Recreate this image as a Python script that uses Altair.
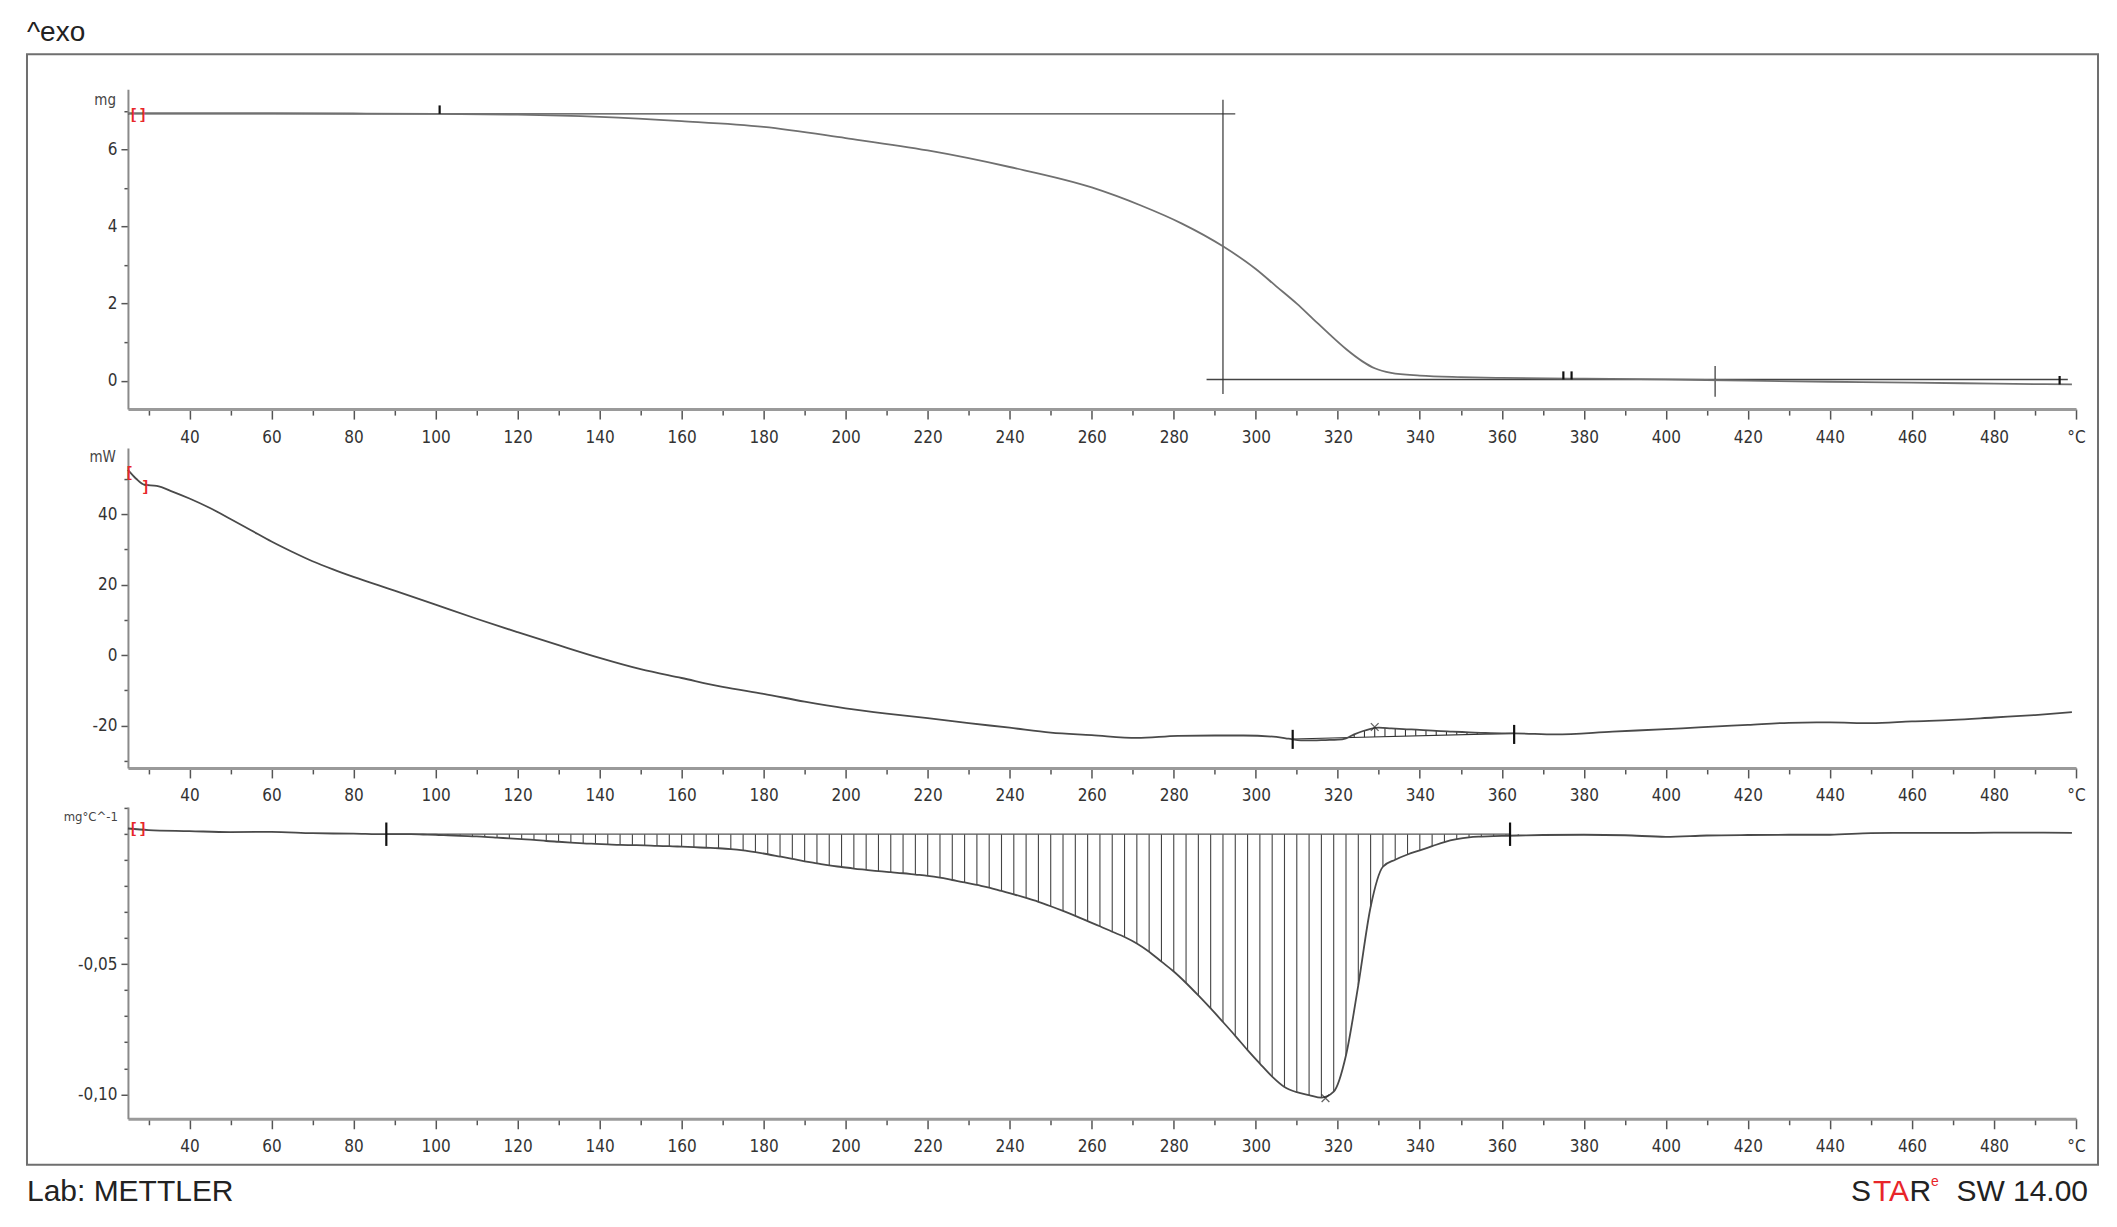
import altair as alt
import pandas as pd

# ---------------- data ----------------
# TGA (mg)
tga_T = [25, 40, 60, 80, 100, 120, 140, 160, 180, 200, 220, 240, 260, 272, 282, 292, 300, 305, 310, 314,
         318, 322, 326, 329, 333, 340, 350, 360, 380, 400, 420, 440, 460, 480, 499]
tga_mg = [6.95, 6.95, 6.95, 6.94, 6.93, 6.91, 6.85, 6.74, 6.59, 6.30, 5.98, 5.55, 5.02, 4.55, 4.08, 3.49, 2.90, 2.45, 2.00, 1.60,
          1.20, 0.82, 0.50, 0.32, 0.20, 0.13, 0.09, 0.07, 0.05, 0.03, 0.00, -0.03, -0.05, -0.08, -0.10]

# DSC (mW)
dsc_T = [25, 27, 29, 32, 36, 40, 45, 50, 55, 60, 65, 70, 75, 80, 90, 100, 110, 120, 130, 140,
         150, 160, 170, 180, 190, 200, 210, 220, 230, 240, 250, 260, 271, 281, 290, 297, 305, 308, 311, 314,
         317, 320, 322, 324, 326, 328, 330, 333, 336, 340, 344, 348, 352, 356, 360, 363, 373, 387, 400, 408,
         420, 430, 440, 450, 460, 470, 480, 490, 499]
dsc_mW = [52.5, 50.0, 48.3, 48.0, 46.3, 44.4, 41.7, 38.6, 35.4, 32.2, 29.3, 26.6, 24.3, 22.2, 18.3, 14.3, 10.3, 6.5, 2.8, -0.8,
          -4.0, -6.5, -9.0, -11.0, -13.2, -15.1, -16.6, -17.9, -19.3, -20.6, -22.0, -22.7, -23.5, -22.9, -22.8, -22.8, -23.2, -23.7, -24.2, -24.2,
          -24.1, -24.0, -23.6, -22.5, -21.6, -20.9, -20.6, -20.8, -21.0, -21.2, -21.5, -21.7, -21.9, -22.1, -22.2, -22.2, -22.5, -21.7, -21.0, -20.5,
          -19.8, -19.2, -19.1, -19.3, -18.8, -18.4, -17.7, -17.0, -16.2]
dsc_hatch_T = [324, 326.5, 329, 331.5, 334, 336.5, 339, 341.5, 344, 346.5, 349, 351.5, 354, 356.5]
dsc_hatch_top = [-22.5, -21.5, -20.8, -20.6, -20.8, -21.0, -21.1, -21.3, -21.5, -21.6, -21.8, -21.9, -22.0, -22.1]
dsc_hatch_base = [-23.35, -23.28, -23.2, -23.13, -23.06, -22.98, -22.9, -22.83, -22.76, -22.68, -22.6, -22.53, -22.45, -22.38]

# DTG (mg/°C)
dtg_T_lo = [25, 30, 40, 50, 60, 70, 80]
dtg_v_lo = [0.0022, 0.0016, 0.0012, 0.0008, 0.0009, 0.0004, 0.0002]
dtg_T_mid = [88, 91, 94, 97, 100, 103, 106, 109, 112, 115,
             118, 121, 124, 127, 130, 133, 136, 139, 142, 145,
             148, 151, 154, 157, 160, 163, 166, 169, 172, 175,
             178, 181, 184, 187, 190, 193, 196, 199, 202, 205,
             208, 211, 214, 217, 220, 223, 226, 229, 232, 235,
             238, 241, 244, 247, 250, 253, 256, 259, 262, 265,
             268, 271, 274, 277, 280, 283, 286, 289, 292, 295,
             298, 301, 304, 307, 310, 313, 316, 319, 322, 325,
             328, 331, 334, 337, 340, 343, 346, 349, 352, 355,
             358, 361, 364]
dtg_v_mid = [0.0000, 0.0000, 0.0000, -0.0001, -0.0002, -0.0004, -0.0006, -0.0008, -0.0010, -0.0013,
             -0.0016, -0.0019, -0.0022, -0.0026, -0.0029, -0.0032, -0.0035, -0.0037, -0.0039, -0.0041,
             -0.0042, -0.0043, -0.0045, -0.0046, -0.0048, -0.0050, -0.0052, -0.0054, -0.0057, -0.0062,
             -0.0069, -0.0077, -0.0086, -0.0095, -0.0104, -0.0112, -0.0120, -0.0126, -0.0132, -0.0137,
             -0.0142, -0.0146, -0.0150, -0.0155, -0.0160, -0.0167, -0.0176, -0.0185, -0.0195, -0.0205,
             -0.0218, -0.0231, -0.0245, -0.0260, -0.0277, -0.0295, -0.0314, -0.0334, -0.0354, -0.0375,
             -0.0395, -0.0420, -0.0452, -0.0490, -0.0528, -0.0572, -0.0620, -0.0670, -0.0722, -0.0775,
             -0.0830, -0.0882, -0.0932, -0.0972, -0.0992, -0.1003, -0.1013, -0.0990, -0.0850, -0.0580,
             -0.0280, -0.0125, -0.0098, -0.0078, -0.0062, -0.0046, -0.0030, -0.0019, -0.0012, -0.0009,
             -0.0007, -0.0006, -0.0005]
dtg_T_hi = [370, 380, 390, 400, 410, 420, 430, 440, 450, 460, 470, 480, 490, 499]
dtg_v_hi = [-0.0003, -0.0002, -0.0004, -0.0010, -0.0005, -0.0003, -0.0002, -0.0002, 0.0004, 0.0005, 0.0005, 0.0006, 0.0006, 0.0005]

# tick values
x_ticks = [30, 40, 50, 60, 70, 80, 90, 100, 110, 120, 130, 140, 150, 160, 170, 180, 190, 200, 210, 220,
           230, 240, 250, 260, 270, 280, 290, 300, 310, 320, 330, 340, 350, 360, 370, 380, 390, 400, 410, 420,
           430, 440, 450, 460, 470, 480, 490, 500]
tga_ticks = [0, 1, 2, 3, 4, 5, 6, 7]
dsc_ticks = [-30, -20, -10, 0, 10, 20, 30, 40, 50]
dtg_ticks = [-0.10, -0.09, -0.08, -0.07, -0.06, -0.05, -0.04, -0.03, -0.02, -0.01, 0.0, 0.01]

# annotation data
tga_hlines = pd.DataFrame({"T": [25, 288], "T2": [295, 498], "v": [6.93, 0.03]})
tga_vlines = pd.DataFrame({"T": [292, 412], "v": [-0.35, -0.42], "v2": [7.3, 0.38]})
tga_flags = pd.DataFrame({"T": [101, 375, 377, 496], "v": [6.93, 0.03, 0.03, -0.1], "v2": [7.15, 0.24, 0.24, 0.12]})
dsc_marks = pd.DataFrame({"T": [309, 363], "v": [-21.2, -19.8], "v2": [-26.6, -25.2]})
dtg_marks = pd.DataFrame({"T": [88, 362], "v": [0.0045, 0.0045], "v2": [-0.0045, -0.0045]})

# ---------------- styling ----------------
W = 1949
LABEL_FONT = "Liberation Sans Narrow, DejaVu Sans Condensed, Liberation Sans, sans-serif"
TEXT_FONT = "Liberation Sans, Arial, sans-serif"
xs = alt.Scale(domain=[25, 500], nice=False, zero=False)

x_axis = alt.Axis(
    values=x_ticks,
    labelExpr="datum.value == 500 ? '°C' : (datum.value % 20 == 0 ? datum.label : '')",
    tickSize={"condition": {"test": "datum.value % 20 == 0", "value": 10}, "value": 6},
    tickColor="#555", tickWidth=1.5, domainColor="#9a9a9a", domainWidth=3,
    labelFont=LABEL_FONT, labelFontSize=17, labelColor="#333", labelPadding=10,
    labelOverlap=False, labelFlush=False, grid=False, title=None,
)


def y_axis(ticks, label_expr, major_test):
    return alt.Axis(
        values=ticks, labelExpr=label_expr,
        tickSize={"condition": {"test": major_test, "value": 7}, "value": 4},
        tickColor="#555", tickWidth=1.5, domainColor="#8a8a8a", domainWidth=2,
        labelFont=LABEL_FONT, labelFontSize=17, labelColor="#333", labelPadding=4,
        labelOverlap=False, labelFlush=False, grid=False, title=None,
    )


def X(field="T"):
    return alt.X(f"{field}:Q", scale=xs, axis=x_axis, title=None)


def one():
    return alt.Data(values=[{"a": 1}])


def txt(text, x, y, size, color="#222", align="left", baseline="alphabetic", font=TEXT_FONT):
    return alt.Chart(one()).mark_text(
        text=text, align=align, baseline=baseline, fontSize=size, color=color, font=font
    ).encode(x=alt.value(x), y=alt.value(y))


# ---------------- panel 1 : TGA ----------------
ys1 = alt.Scale(domain=[-0.74, 7.57], nice=False, zero=False)
ya1 = y_axis(tga_ticks, "datum.value % 2 == 0 ? datum.label : ''", "datum.value % 2 == 0")


def Y1(field="v"):
    return alt.Y(f"{field}:Q", scale=ys1, axis=ya1, title=None)


tga_df = pd.DataFrame({"T": tga_T, "v": tga_mg})
frame = alt.Chart(one()).mark_rect(fillOpacity=0, stroke="#6f6f6f", strokeWidth=2).encode(
    x=alt.value(-101), x2=alt.value(1971), y=alt.value(-35), y2=alt.value(1076))
p1 = alt.layer(
    frame,
    txt("^exo", -101, -48, 28),
    alt.Chart(tga_hlines).mark_rule(color="#444", strokeWidth=1.4).encode(x=X(), x2="T2:Q", y=Y1()),
    alt.Chart(tga_vlines).mark_rule(color="#333", strokeWidth=1.2).encode(x=X(), y=Y1(), y2="v2:Q"),
    alt.Chart(tga_df).mark_line(color="#707070", strokeWidth=1.8, interpolate="monotone").encode(x=X(), y=Y1()),
    alt.Chart(tga_flags).mark_rule(color="#111", strokeWidth=2.2).encode(x=X(), y=Y1(), y2="v2:Q"),
    alt.Chart(pd.DataFrame({"T": [27.5], "v": [6.93], "s": ["[ ]"]})).mark_text(
        color="#e8262a", fontSize=15, fontWeight="bold", font=TEXT_FONT).encode(x=X(), y=Y1(), text="s:N"),
    txt("mg", -12, 16, 15, color="#444", align="right", font=LABEL_FONT),
).properties(width=W, height=320)

# ---------------- panel 2 : DSC ----------------
ys2 = alt.Scale(domain=[-32.0, 58.7], nice=False, zero=False)
ya2 = y_axis(dsc_ticks, "datum.value % 20 == 0 ? toString(datum.value) : ''", "datum.value % 20 == 0")


def Y2(field="v"):
    return alt.Y(f"{field}:Q", scale=ys2, axis=ya2, title=None)


dsc_df = pd.DataFrame({"T": dsc_T, "v": dsc_mW})
dsc_hatch = pd.DataFrame({"T": dsc_hatch_T, "v": dsc_hatch_top, "b": dsc_hatch_base})
dsc_base = pd.DataFrame({"T": [309], "T2": [363], "v": [-23.8], "v2": [-22.2]})
p2 = alt.layer(
    alt.Chart(dsc_hatch).mark_rule(color="#333", strokeWidth=1.1).encode(x=X(), y=Y2(), y2="b:Q"),
    alt.Chart(dsc_base).mark_rule(color="#333", strokeWidth=1.2).encode(x=X(), x2="T2:Q", y=Y2(), y2="v2:Q"),
    alt.Chart(dsc_df).mark_line(color="#4a4a4a", strokeWidth=1.8, interpolate="monotone").encode(x=X(), y=Y2()),
    alt.Chart(dsc_marks).mark_rule(color="#111", strokeWidth=2.2).encode(x=X(), y=Y2(), y2="v2:Q"),
    alt.Chart(pd.DataFrame({"T": [329], "v": [-20.4]})).mark_point(
        shape="M-1,-1L1,1M-1,1L1,-1", size=60, color="#222", strokeWidth=1.3).encode(x=X(), y=Y2()),
    alt.Chart(pd.DataFrame({"T": [25.3, 29.3], "v": [52.0, 48.0], "s": ["[", "]"]})).mark_text(
        color="#e8262a", fontSize=15, fontWeight="bold", font=TEXT_FONT).encode(x=X(), y=Y2(), text="s:N"),
    txt("mW", -12, 14, 15, color="#444", align="right", font=LABEL_FONT),
).properties(width=W, height=320)

# ---------------- panel 3 : DTG ----------------
ys3 = alt.Scale(domain=[-0.1094, 0.0105], nice=False, zero=False)
dtg_label = ("abs(datum.value + 0.05) < 0.0001 ? '-0,05' : "
             "(abs(datum.value + 0.1) < 0.0001 ? '-0,10' : '')")
dtg_major = "abs(datum.value + 0.05) < 0.0001 || abs(datum.value + 0.1) < 0.0001"
ya3 = y_axis(dtg_ticks, dtg_label, dtg_major)


def Y3(field="v"):
    return alt.Y(f"{field}:Q", scale=ys3, axis=ya3, title=None)


dtg_df = pd.DataFrame({"T": dtg_T_lo + dtg_T_mid + dtg_T_hi, "v": dtg_v_lo + dtg_v_mid + dtg_v_hi})
dtg_hatch = pd.DataFrame({"T": dtg_T_mid, "v": dtg_v_mid})
p3 = alt.layer(
    alt.Chart(dtg_hatch).mark_rule(color="#444", strokeWidth=1.1).encode(x=X(), y=Y3(), y2=alt.datum(0)),
    alt.Chart(pd.DataFrame({"T": [88], "T2": [362], "v": [0.0]})).mark_rule(color="#555", strokeWidth=1.2).encode(
        x=X(), x2="T2:Q", y=Y3()),
    alt.Chart(dtg_df).mark_line(color="#4a4a4a", strokeWidth=1.8, interpolate="monotone").encode(x=X(), y=Y3()),
    alt.Chart(dtg_marks).mark_rule(color="#111", strokeWidth=2.2).encode(x=X(), y=Y3(), y2="v2:Q"),
    alt.Chart(pd.DataFrame({"T": [317], "v": [-0.1015]})).mark_point(
        shape="M-1,-1L1,1M-1,1L1,-1", size=60, color="#222", strokeWidth=1.3).encode(x=X(), y=Y3()),
    alt.Chart(pd.DataFrame({"T": [27.5], "v": [0.0022], "s": ["[ ]"]})).mark_text(
        color="#e8262a", fontSize=15, fontWeight="bold", font=TEXT_FONT).encode(x=X(), y=Y3(), text="s:N"),
    txt("mg°C^-1", -10, 14, 13, color="#444", align="right", font=LABEL_FONT),
    txt("Lab: METTLER", -101, 394, 30),
    txt("S", 1744, 394, 30, align="right"),
    txt("TA", 1782, 394, 30, color="#e8262a", align="right"),
    txt("R", 1804, 394, 30, align="right"),
    txt("e", 1804, 379, 14, color="#e8262a", align="left"),
    txt("SW 14.00", 1961, 394, 30, align="right"),
).properties(width=W, height=312)

chart = alt.vconcat(p1, p2, p3, spacing=39, bounds="flush").properties(
    padding={"left": 18, "top": 11, "right": 10, "bottom": 10}, background="white"
).configure_view(strokeWidth=0)

chart.save("out.html", embed_options={"renderer": "svg", "actions": False})
